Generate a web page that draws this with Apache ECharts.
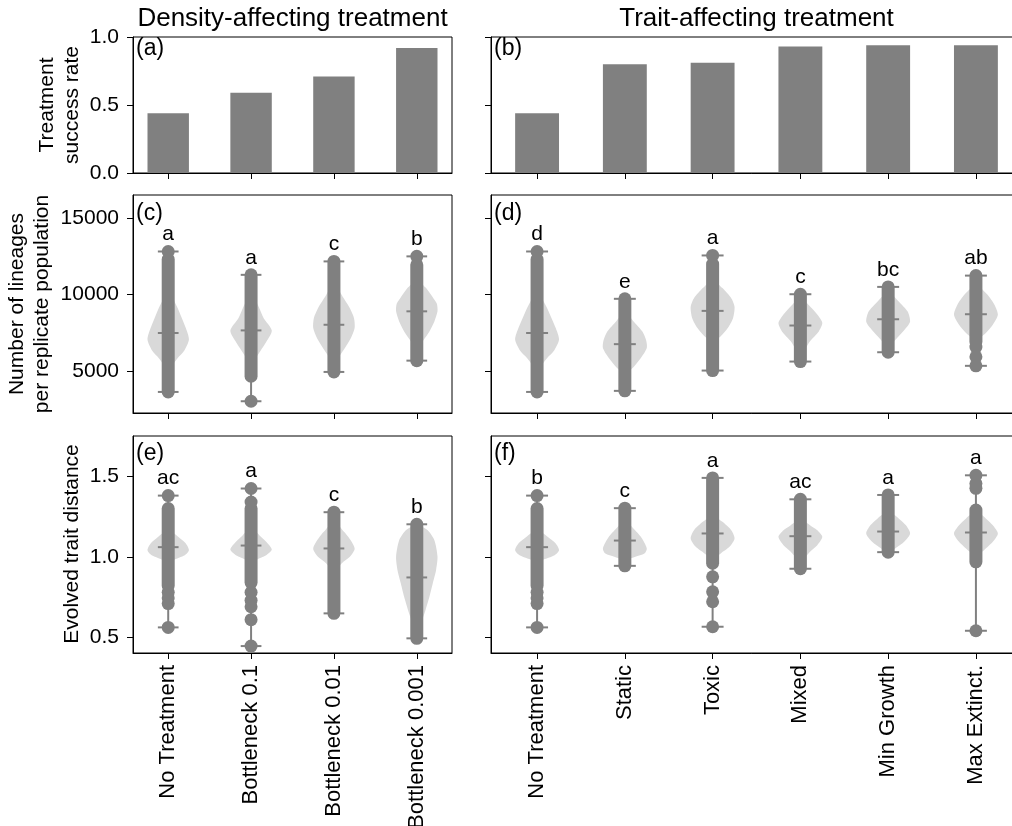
<!DOCTYPE html>
<html><head><meta charset="utf-8">
<script src="https://cdn.jsdelivr.net/npm/echarts@6/dist/echarts.min.js"></script>
<style>html,body{margin:0;padding:0;background:#fff}#c{width:1012px;height:826px}</style>
</head><body><div id="c"></div>
<script>
// ---------------- DATA ----------------
const densityCategories = ['No Treatment', 'Bottleneck 0.1', 'Bottleneck 0.01', 'Bottleneck 0.001'];
const traitCategories = ['No Treatment', 'Static', 'Toxic', 'Mixed', 'Min Growth', 'Max Extinct.'];

const densitySuccess = [0.44, 0.59, 0.71, 0.92];
const traitSuccess = [0.44, 0.80, 0.81, 0.93, 0.94, 0.94];

// Number of lineages (panels c, d)
const densityLineageMin = [3620, 3010, 4930, 5670];
const densityLineageMax = [12820, 11290, 12170, 12500];
const densityLineageMedian = [7480, 7650, 8020, 8900];
const densityLineageDense = [[3620, 12300], [4650, 11290], [4930, 12170], [5670, 11950]];
const densityLineagePoints = [[12820], [3010], [], [12500]];
const densityLineageLetters = ['a', 'a', 'c', 'b'];
const densityLineageViolin = [
  [[3620,0],[4800,0.03],[5400,0.23],[5840,0.46],[6310,0.77],[7050,1.0],[7800,0.85],[8450,0.66],[9100,0.46],[9760,0.23],[10500,0.08],[11500,0.03],[12820,0]],
  [[3010,0],[4700,0.02],[5630,0.16],[6300,0.45],[6940,0.75],[7650,1.0],[8450,0.61],[9100,0.4],[9760,0.19],[10500,0.06],[11290,0]],
  [[4930,0],[5400,0.05],[5840,0.21],[6490,0.53],[7150,0.82],[7800,1.0],[8450,0.97],[9100,0.77],[9980,0.37],[10860,0.08],[11500,0.03],[12170,0]],
  [[5670,0],[6300,0.05],[6940,0.29],[7580,0.61],[8240,0.85],[8900,1.0],[9400,0.97],[9760,0.8],[10420,0.45],[10960,0.1],[11800,0.03],[12500,0]]
];

const traitLineageMin = [3620, 3690, 5020, 5610, 6220, 5330];
const traitLineageMax = [12820, 9720, 12560, 10020, 10500, 11240];
const traitLineageMedian = [7480, 6750, 8930, 7970, 8380, 8710];
const traitLineageDense = [[3620, 12300], [3690, 9720], [5020, 12000], [5610, 10020], [6220, 10500], [6900, 11240]];
const traitLineagePoints = [[12820], [], [12560], [], [], [6560, 5920, 5330]];
const traitLineageLetters = ['d', 'e', 'a', 'c', 'bc', 'ab'];
const traitLineageViolin = [
  [[3620,0],[4800,0.03],[5400,0.23],[5840,0.46],[6310,0.77],[7050,1.0],[7800,0.85],[8450,0.66],[9100,0.46],[9760,0.23],[10500,0.08],[11500,0.03],[12820,0]],
  [[3690,0],[4300,0.03],[4800,0.1],[5250,0.4],[5840,0.73],[6500,1.0],[7000,0.97],[7580,0.8],[8240,0.4],[8890,0.08],[9720,0]],
  [[5020,0],[6300,0.03],[7000,0.15],[7260,0.37],[7800,0.69],[8450,0.93],[9200,1.0],[9760,0.85],[10420,0.45],[10960,0.1],[11800,0.03],[12560,0]],
  [[5610,0],[6000,0.05],[6390,0.2],[6940,0.44],[7580,0.84],[8130,1.0],[8560,0.84],[9100,0.52],[9760,0.1],[10020,0]],
  [[6220,0],[6720,0.16],[7260,0.48],[7800,0.81],[8240,1.0],[8890,0.89],[9550,0.48],[10200,0.08],[10500,0]],
  [[5330,0],[6400,0.02],[7050,0.13],[7480,0.45],[8020,0.77],[8670,1.0],[9320,0.85],[9980,0.53],[10640,0.1],[11240,0]]
];

// Evolved trait distance (panels e, f)
const densityDistanceMin = [0.562, 0.446, 0.649, 0.494];
const densityDistanceMax = [1.380, 1.424, 1.277, 1.202];
const densityDistanceMedian = [1.060, 1.070, 1.052, 0.872];
const densityDistanceDense = [[0.82, 1.30], [0.84, 1.30], [0.649, 1.277], [0.494, 1.202]];
const densityDistancePoints = [[1.38, 0.78, 0.745, 0.71, 0.562], [1.424, 1.34, 0.78, 0.73, 0.69, 0.61, 0.446], [], []];
const densityDistanceLetters = ['ac', 'a', 'c', 'b'];
const densityDistanceViolin = [
  [[0.562,0],[0.85,0.02],[0.95,0.06],[0.979,0.24],[1.010,0.8],[1.041,1.0],[1.083,0.85],[1.124,0.48],[1.176,0.08],[1.25,0.02],[1.380,0]],
  [[0.446,0],[0.8,0.02],[0.93,0.06],[0.979,0.24],[1.010,0.73],[1.045,1.0],[1.093,0.73],[1.134,0.4],[1.186,0.08],[1.3,0.02],[1.424,0]],
  [[0.649,0],[0.85,0.03],[0.917,0.13],[0.959,0.37],[1.0,0.77],[1.052,1.0],[1.124,0.69],[1.186,0.29],[1.258,0.05],[1.277,0]],
  [[0.494,0],[0.525,0.05],[0.587,0.21],[0.669,0.42],[0.752,0.61],[0.835,0.77],[0.917,0.93],[1.0,1.0],[1.103,0.85],[1.165,0.53],[1.19,0.2],[1.202,0]]
];

const traitDistanceMin = [0.562, 0.944, 0.566, 0.926, 1.029, 0.541];
const traitDistanceMax = [1.380, 1.302, 1.490, 1.357, 1.384, 1.506];
const traitDistanceMedian = [1.060, 1.101, 1.145, 1.128, 1.157, 1.151];
const traitDistanceDense = [[0.82, 1.30], [0.944, 1.302], [0.96, 1.49], [0.926, 1.357], [1.029, 1.384], [0.969, 1.29]];
const traitDistancePoints = [[1.38, 0.78, 0.745, 0.71, 0.562], [], [0.876, 0.783, 0.721, 0.566], [], [], [1.506, 1.455, 1.425, 0.541]];
const traitDistanceLetters = ['b', 'c', 'a', 'ac', 'a', 'a'];
const traitDistanceViolin = [
  [[0.562,0],[0.85,0.02],[0.95,0.06],[0.979,0.24],[1.010,0.8],[1.041,1.0],[1.083,0.85],[1.124,0.48],[1.176,0.08],[1.25,0.02],[1.380,0]],
  [[0.944,0],[0.98,0.1],[1.0,0.48],[1.02,0.89],[1.052,1.0],[1.124,0.73],[1.186,0.32],[1.24,0.06],[1.302,0]],
  [[0.566,0],[0.9,0.02],[0.99,0.13],[1.021,0.37],[1.062,0.77],[1.114,1.0],[1.165,0.85],[1.217,0.45],[1.258,0.08],[1.35,0.02],[1.49,0]],
  [[0.926,0],[0.99,0.19],[1.031,0.44],[1.072,0.77],[1.124,1.0],[1.165,0.77],[1.196,0.44],[1.238,0.08],[1.3,0.02],[1.357,0]],
  [[1.029,0],[1.052,0.32],[1.093,0.73],[1.145,1.0],[1.196,0.81],[1.238,0.48],[1.29,0.08],[1.384,0]],
  [[0.541,0],[0.9,0.02],[1.01,0.13],[1.041,0.37],[1.093,0.77],[1.145,1.0],[1.196,0.77],[1.238,0.45],[1.29,0.08],[1.4,0.02],[1.506,0]]
];

const successTicks = [0, 0.5, 1.0];
const lineageTicks = [5000, 10000, 15000];
const distanceTicks = [0.5, 1.0, 1.5];

// ---------------- STYLE / LAYOUT ----------------
const FONT = '"Liberation Sans", Arial, Helvetica, sans-serif';
const GREY = '#808080';
const LIGHT = '#d9d9d9';
const VIOLIN_HALF = 0.25;
const CAP_HALF = 0.125;
const BAR_HALF = 0.25;
const FS = 21;

const gridRects = [
  {left: 133, top: 37, width: 319, height: 136},
  {left: 491, top: 37, width: 531, height: 136},
  {left: 133, top: 195, width: 319, height: 218},
  {left: 491, top: 195, width: 531, height: 218},
  {left: 133, top: 436, width: 319, height: 217},
  {left: 491, top: 436, width: 531, height: 217}
];
const grids = gridRects.map(g => Object.assign({show: true, borderColor: '#000', borderWidth: 1, backgroundColor: 'transparent',
  containLabel: false, outerBoundsMode: 'none'}, g));

function xAxis(gi, cats, showLabels) {
  const idx = cats.map((_, i) => i);
  const pad = cats.length === 4 ? 0.425 : 0.525;
  return {
    type: 'value', gridIndex: gi, min: -pad, max: cats.length - 1 + pad,
    splitLine: {show: false},
    axisLine: {show: true, onZero: false, lineStyle: {color: '#000', width: 1}},
    axisTick: {show: true, customValues: idx, length: 6, lineStyle: {color: '#000', width: 1}},
    axisLabel: {show: showLabels, customValues: idx, rotate: 90, fontSize: 22, color: '#000', fontFamily: FONT, margin: 12,
      hideOverlap: false, formatter: v => cats[Math.round(v)]}
  };
}
function yAxis(gi, min, max, ticks, dec, showLabels) {
  return {
    type: 'value', gridIndex: gi, min: min, max: max,
    splitLine: {show: false},
    axisLine: {show: true, onZero: false, lineStyle: {color: '#000', width: 1}},
    axisTick: {show: true, customValues: ticks, length: 6, lineStyle: {color: '#000', width: 1}},
    axisLabel: {show: showLabels, customValues: ticks, fontSize: FS, color: '#000', fontFamily: FONT, margin: 14,
      formatter: v => Number(v).toFixed(dec)}
  };
}

const xAxes = [
  xAxis(0, densityCategories, false), xAxis(1, traitCategories, false),
  xAxis(2, densityCategories, false), xAxis(3, traitCategories, false),
  xAxis(4, densityCategories, true), xAxis(5, traitCategories, true)
];
const yAxes = [
  yAxis(0, 0, 1, successTicks, 1, true), yAxis(1, 0, 1, successTicks, 1, false),
  yAxis(2, 2240, 16520, lineageTicks, 0, true), yAxis(3, 2240, 16520, lineageTicks, 0, false),
  yAxis(4, 0.403, 1.75, distanceTicks, 1, true), yAxis(5, 0.403, 1.75, distanceTicks, 1, false)
];

// ---------------- SERIES BUILDERS ----------------
function barSeries(gi, values) {
  return {
    type: 'custom', xAxisIndex: gi, yAxisIndex: gi, z: 2,
    data: values.map((v, i) => [i, v]),
    renderItem(params, api) {
      const i = api.value(0), v = api.value(1);
      const p0 = api.coord([i - BAR_HALF, v]);
      const p1 = api.coord([i + BAR_HALF, 0]);
      return {type: 'rect', shape: {x: p0[0], y: p0[1], width: p1[0] - p0[0], height: p1[1] - p0[1]}, style: {fill: GREY}};
    }
  };
}

function violinSeries(gi, profiles) {
  return {
    type: 'custom', xAxisIndex: gi, yAxisIndex: gi, z: 2,
    data: profiles.map((p, i) => [i, p[0][0]]),
    renderItem(params, api) {
      const i = params.dataIndex;
      const prof = profiles[i];
      const pts = [];
      for (let k = 0; k < prof.length; k++) pts.push(api.coord([i + prof[k][1] * VIOLIN_HALF, prof[k][0]]));
      for (let k = prof.length - 1; k >= 0; k--) pts.push(api.coord([i - prof[k][1] * VIOLIN_HALF, prof[k][0]]));
      return {type: 'polygon', shape: {points: pts, smooth: 0.25}, style: {fill: LIGHT, stroke: null}};
    }
  };
}

function whiskerSeries(gi, mins, maxs, meds) {
  return {
    type: 'custom', xAxisIndex: gi, yAxisIndex: gi, z: 3,
    data: mins.map((m, i) => [i, meds[i]]),
    renderItem(params, api) {
      const i = params.dataIndex;
      const a = api.coord([i, mins[i]]), b = api.coord([i, maxs[i]]);
      const st = {stroke: GREY, lineWidth: 2};
      const cap = v => {
        const l = api.coord([i - CAP_HALF, v]), r = api.coord([i + CAP_HALF, v]);
        return {type: 'line', shape: {x1: l[0], y1: l[1], x2: r[0], y2: r[1]}, style: st};
      };
      return {type: 'group', children: [
        {type: 'line', shape: {x1: a[0], y1: a[1], x2: b[0], y2: b[1]}, style: st},
        cap(mins[i]), cap(maxs[i]), cap(meds[i])
      ]};
    }
  };
}

function denseSeries(gi, ranges) {
  return {
    type: 'custom', xAxisIndex: gi, yAxisIndex: gi, z: 4,
    data: ranges.map((r, i) => [i, r[0], r[1]]),
    renderItem(params, api) {
      const i = api.value(0);
      const a = api.coord([i, api.value(1)]), b = api.coord([i, api.value(2)]);
      return {type: 'line', shape: {x1: a[0], y1: a[1], x2: b[0], y2: b[1]},
        style: {stroke: GREY, lineWidth: 13, lineCap: 'round'}};
    }
  };
}

function pointSeries(gi, pts) {
  const data = [];
  pts.forEach((arr, i) => arr.forEach(v => data.push([i, v])));
  return {
    type: 'scatter', xAxisIndex: gi, yAxisIndex: gi, z: 5,
    symbol: 'circle', symbolSize: 13, itemStyle: {color: GREY, opacity: 1},
    data: data, silent: true
  };
}

function letterSeries(gi, maxs, letters) {
  return {
    type: 'custom', xAxisIndex: gi, yAxisIndex: gi, z: 6,
    data: maxs.map((m, i) => [i, m]),
    renderItem(params, api) {
      const i = params.dataIndex;
      const p = api.coord([api.value(0), api.value(1)]);
      return {type: 'text', x: p[0], y: p[1] - 17,
        style: {text: letters[i], fontSize: FS, fontFamily: FONT, fill: '#000', align: 'center', verticalAlign: 'middle'}};
    }
  };
}

function violinPanel(gi, profiles, mins, maxs, meds, dense, pts, letters) {
  return [
    violinSeries(gi, profiles),
    whiskerSeries(gi, mins, maxs, meds),
    denseSeries(gi, dense),
    pointSeries(gi, pts),
    letterSeries(gi, maxs, letters)
  ];
}

const series = [
  barSeries(0, densitySuccess),
  barSeries(1, traitSuccess),
  ...violinPanel(2, densityLineageViolin, densityLineageMin, densityLineageMax, densityLineageMedian, densityLineageDense, densityLineagePoints, densityLineageLetters),
  ...violinPanel(3, traitLineageViolin, traitLineageMin, traitLineageMax, traitLineageMedian, traitLineageDense, traitLineagePoints, traitLineageLetters),
  ...violinPanel(4, densityDistanceViolin, densityDistanceMin, densityDistanceMax, densityDistanceMedian, densityDistanceDense, densityDistancePoints, densityDistanceLetters),
  ...violinPanel(5, traitDistanceViolin, traitDistanceMin, traitDistanceMax, traitDistanceMedian, traitDistanceDense, traitDistancePoints, traitDistanceLetters)
];

function txt(text, x, y, size, extra) {
  return Object.assign({type: 'text', x: x, y: y, z: 100,
    style: {text: text, fontSize: size, fontFamily: FONT, fill: '#000',
      align: 'center', verticalAlign: 'middle', textAlign: 'center', textVerticalAlign: 'middle', lineHeight: 25}}, extra || {});
}
function panelLabel(text, g, dy) {
  return {type: 'text', x: g.left + 3, y: g.top + dy, z: 100,
    style: {text: text, fontSize: 23, fontFamily: FONT, fill: '#000', align: 'left', verticalAlign: 'top', textAlign: 'left', textVerticalAlign: 'top'}};
}

const graphics = [
  txt('Density-affecting treatment', gridRects[0].left + gridRects[0].width / 2, 19, 26),
  txt('Trait-affecting treatment', gridRects[1].left + gridRects[1].width / 2, 19, 26),
  txt('Treatment\nsuccess rate', 60, 105, FS, {rotation: Math.PI / 2}),
  txt('Number of lineages\nper replicate population', 30, 304, FS, {rotation: Math.PI / 2}),
  txt('Evolved trait distance', 72, 544, FS, {rotation: Math.PI / 2}),
  panelLabel('(a)', gridRects[0], 0),
  panelLabel('(b)', gridRects[1], 0),
  panelLabel('(c)', gridRects[2], 7),
  panelLabel('(d)', gridRects[3], 7),
  panelLabel('(e)', gridRects[4], 6),
  panelLabel('(f)', gridRects[5], 6)
];

const chart = echarts.init(document.getElementById('c'), null, {renderer: 'canvas'});
chart.setOption({
  animation: false,
  backgroundColor: '#fff',
  grid: grids,
  xAxis: xAxes,
  yAxis: yAxes,
  series: series,
  graphic: graphics
});
</script>
</body></html>
